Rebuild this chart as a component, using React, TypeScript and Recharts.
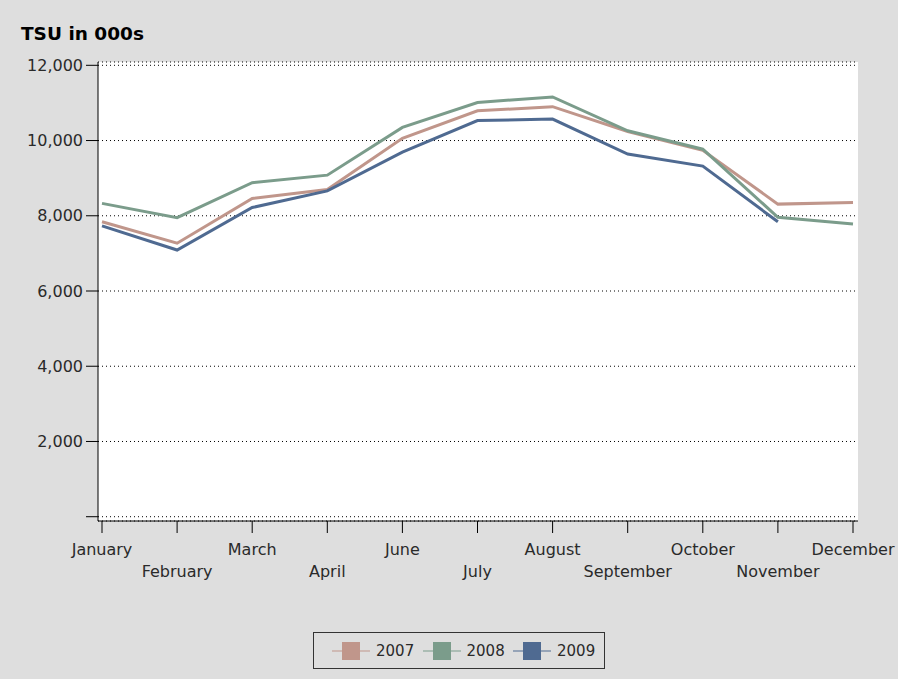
import { CartesianGrid, Legend, Line, LineChart, XAxis, YAxis } from 'recharts';

const months = ['January', 'February', 'March', 'April', 'June', 'July', 'August', 'September', 'October', 'November', 'December'];
const tsu2007 = [7840, 7270, 8460, 8700, 10060, 10790, 10900, 10240, 9740, 8310, 8350];
const tsu2008 = [8330, 7950, 8880, 9080, 10350, 11010, 11160, 10260, 9770, 7960, 7780];
const tsu2009 = [7730, 7090, 8220, 8660, 9690, 10530, 10570, 9640, 9320, 7840, null];
const yTicks = [0, 2000, 4000, 6000, 8000, 10000, 12000];

const series = [
  { key: '2007', color: '#c0968b' },
  { key: '2008', color: '#7b9c8b' },
  { key: '2009', color: '#4f6a91' },
];

const data = months.map((month, i) => ({
  month,
  '2007': tsu2007[i],
  '2008': tsu2008[i],
  '2009': tsu2009[i],
}));

const FONT = '"DejaVu Sans", sans-serif';
const INK = '#2a2a2a';

function MonthTick(props: any) {
  const { x, y, payload, index } = props;
  return (
    <text x={x} y={y} dy={index % 2 ? 44 : 22} textAnchor="middle" fill={INK} fontSize={16} fontFamily={FONT}>
      {payload.value}
    </text>
  );
}

function LegendBox() {
  return (
    <div
      style={{
        boxSizing: 'border-box',
        width: 292,
        height: 37,
        border: '1px solid #333',
        display: 'flex',
        alignItems: 'center',
        paddingLeft: 18,
      }}
    >
      {series.map((s) => (
        <div key={s.key} style={{ display: 'flex', alignItems: 'center', width: 90.5 }}>
          <svg width={38} height={20}>
            <line x1={0} x2={38} y1={10} y2={10} stroke={s.color} strokeWidth={1} />
            <rect x={10} y={1} width={18} height={18} fill={s.color} />
          </svg>
          <span style={{ marginLeft: 6, fontSize: 15, fontFamily: FONT, color: INK }}>{s.key}</span>
        </div>
      ))}
    </div>
  );
}

export default function App() {
  // draw order: 2007, 2009, then 2008 on top
  const drawOrder = [series[0], series[2], series[1]];
  return (
    <div style={{ position: 'fixed', top: 0, left: 0, width: 898, height: 679, background: '#dedede' }}>
      <div
        style={{
          position: 'absolute',
          left: 21,
          top: 23,
          fontFamily: FONT,
          fontWeight: 'bold',
          fontSize: 18.5,
          color: '#000',
        }}
      >
        TSU in 000s
      </div>
      <LineChart width={898} height={679} data={data} margin={{ top: 62, right: 40, bottom: 0, left: 0 }}>
        <CartesianGrid horizontal vertical={false} fill="#fff" stroke="#000" strokeDasharray="1 3" />
        <XAxis
          dataKey="month"
          height={158}
          interval={0}
          padding={{ left: 4, right: 5 }}
          tickSize={12}
          tickMargin={0}
          tick={<MonthTick />}
          axisLine={{ stroke: '#000' }}
          tickLine={{ stroke: '#000' }}
        />
        <XAxis xAxisId="top" dataKey="month" orientation="top" height={0} tick={false} tickLine={false} axisLine={{ stroke: '#000' }} />
        <YAxis
          width={98}
          domain={[-114, 12088]}
          ticks={yTicks}
          allowDataOverflow
          interval={0}
          tickSize={12}
          tickMargin={3}
          tickFormatter={(v: number) => (v === 0 ? '' : v.toLocaleString('en-US'))}
          tick={{ fill: INK, fontSize: 16, fontFamily: FONT }}
          axisLine={{ stroke: '#000' }}
          tickLine={{ stroke: '#000' }}
        />
        <YAxis yAxisId="right" orientation="right" width={0} domain={[0, 1]} tick={false} tickLine={false} axisLine={{ stroke: '#000' }} />
        {drawOrder.map((s) => (
          <Line
            key={s.key}
            type="linear"
            dataKey={s.key}
            stroke={s.color}
            strokeWidth={3}
            dot={false}
            activeDot={false}
            isAnimationActive={false}
          />
        ))}
        <Legend
          layout="horizontal"
          verticalAlign="middle"
          align="center"
          wrapperStyle={{ top: 632, left: 313, width: 292, height: 37 }}
          content={<LegendBox />}
        />
      </LineChart>
    </div>
  );
}
